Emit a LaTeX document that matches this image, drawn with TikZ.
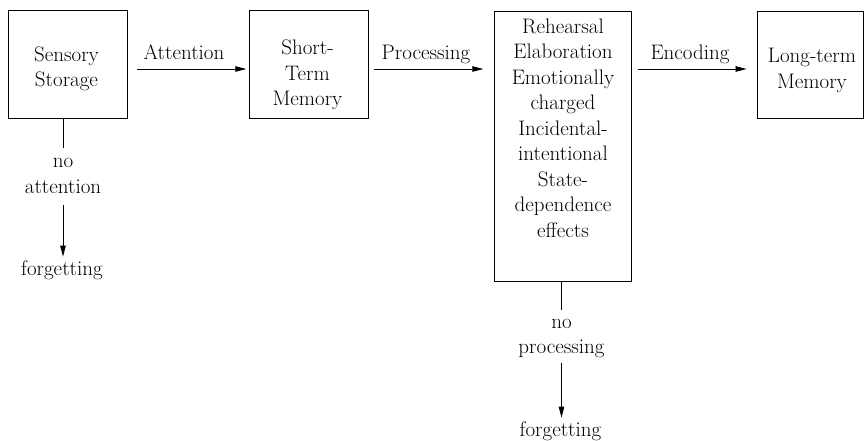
\documentclass[tikz,border=0pt]{standalone}
\usetikzlibrary{arrows.meta}
\newcommand\flowfont{\fontsize{21}{25.5}\selectfont}
\begin{document}
\begin{tikzpicture}[x=1pt,y=-1pt,
  box/.style={draw, line width=0.9pt, inner sep=0pt},
  txt/.style={font=\flowfont, align=center, inner sep=0pt},
  link/.style={line width=0.8pt},
  flow/.style={line width=0.8pt, -{Triangle[length=11pt,width=5.5pt]}}]
\useasboundingbox (0,0) rectangle (864,441);

% stage boxes
\node[box, minimum width=119.5pt, minimum height=107.5pt] (sensory) at (68,64.6) {};
\node[box, minimum width=119pt, minimum height=107.5pt] (shortterm) at (308.5,64.6) {};
\node[box, minimum width=137pt, minimum height=269.5pt] (process) at (562.8,146.2) {};
\node[box, minimum width=105.8pt, minimum height=107pt] (longterm) at (810.6,64.9) {};

% box texts
\node[txt, anchor=north] (sensoryT) at (66.5,46.2) {Sensory\\Storage};
\node[txt, anchor=north] (shorttermT) at (307.5,39.9) {Short-\\Term\\Memory};
\node[txt, anchor=north] (processT) at (563,18.4)
  {Rehearsal\\Elaboration\\Emotionally\\charged\\Incidental-\\intentional\\State-\\dependence\\effects};
\node[txt, anchor=north] (longtermT) at (812,48.2) {Long-term\\Memory};

% transition labels
\node[txt, anchor=base] (attention) at (184,60) {Attention};
\node[txt, anchor=base] (processing) at (426,60) {Processing};
\node[txt, anchor=base] (encoding) at (690,60) {Encoding};

% forgetting branches
\node[txt, anchor=north] (noattn) at (63,158.1) {no\\attention};
\node[txt, anchor=base] (forget1) at (62,275) {forgetting};
\node[txt, anchor=north] (noproc) at (561.5,319) {no\\processing};
\node[txt, anchor=base] (forget2) at (560.5,436) {forgetting};

% main flow, all at one height
\draw[flow, shorten <=9pt, shorten >=2.3pt]
  ([yshift=-4.4pt]sensory.east) -- ([yshift=-4.4pt]shortterm.west |- sensory.east);
\draw[flow, shorten <=6pt, shorten >=10.6pt]
  ([yshift=-4.4pt]shortterm.east |- sensory.east) -- ([yshift=-4.4pt]process.west |- sensory.east);
\draw[flow, shorten <=6.7pt, shorten >=10.7pt]
  ([yshift=-4.4pt]process.east |- sensory.east) -- ([yshift=-4.4pt]longterm.west |- sensory.east);

% branch connectors
\draw[link, shorten >=10.1pt] (noattn.north |- sensory.south) -- (noattn.north);
\draw[flow, shorten <=11.3pt, shorten >=3.4pt] (noattn.south) -- (noattn.south |- forget1.north);
\draw[link, shorten >=9pt] (noproc.north |- process.south) -- (noproc.north);
\draw[flow, shorten <=4.4pt, shorten >=3.4pt] (noproc.south) -- (noproc.south |- forget2.north);
\end{tikzpicture}
\end{document}
